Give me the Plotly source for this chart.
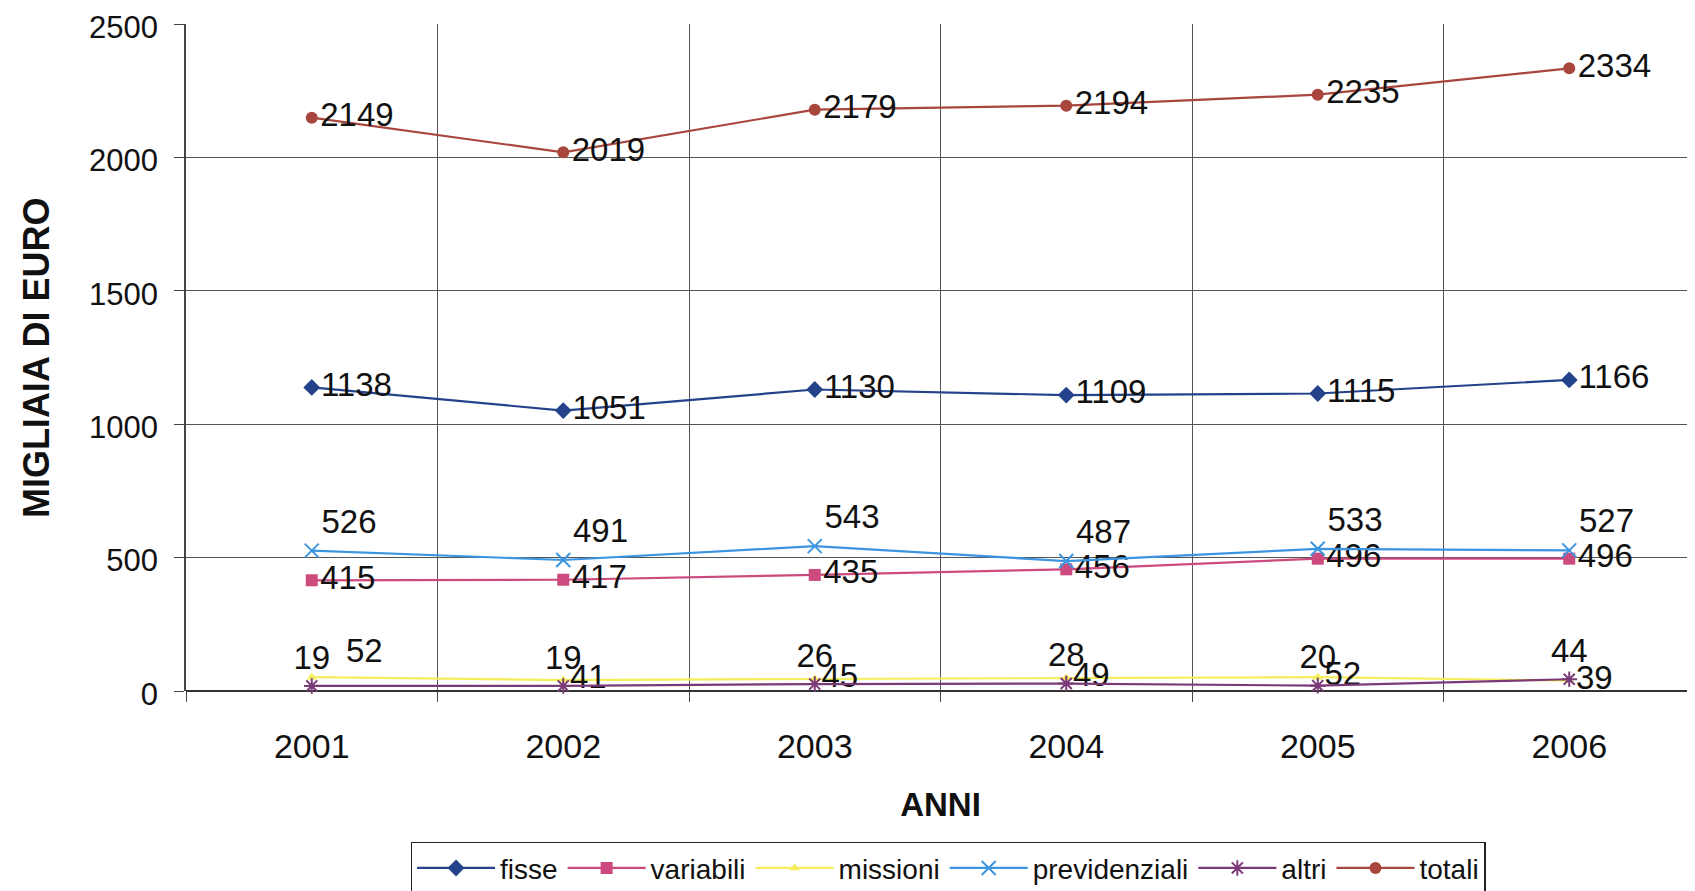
import plotly.graph_objects as go

years = ["2001", "2002", "2003", "2004", "2005", "2006"]
fisse = [1138, 1051, 1130, 1109, 1115, 1166]
variabili = [415, 417, 435, 456, 496, 496]
missioni = [52, 41, 45, 49, 52, 39]
previdenziali = [526, 491, 543, 487, 533, 527]
altri = [19, 19, 26, 28, 20, 44]
totali = [2149, 2019, 2179, 2194, 2235, 2334]

x = list(range(len(years)))
LABEL_FONT = dict(family="Liberation Sans, Arial, sans-serif", size=33, color="#111")

series = [
    ("fisse", fisse, "#23428A", dict(symbol="diamond", size=13), ["middle right"] * 6),
    ("variabili", variabili, "#CC4A7E", dict(symbol="square", size=12), ["middle right"] * 6),
    ("missioni", missioni, "#F4EE5A", dict(symbol="triangle-up", size=9), ["top right"] + ["middle right"] * 5),
    ("previdenziali", previdenziali, "#3C95E0", dict(symbol="x-thin-open", size=14, line=dict(width=2, color="#3C95E0")), ["top right"] * 6),
    ("altri", altri, "#7A3A78", dict(symbol="asterisk-open", size=13, line=dict(width=2, color="#7A3A78")), ["top center"] * 6),
    ("totali", totali, "#A8453D", dict(symbol="circle", size=12), ["middle right"] * 6),
]

fig = go.Figure()
for name, vals, color, marker, tpos in series:
    m = dict(color=color, **marker)
    labels = [str(v) for v in vals]
    if name == "missioni":
        labels[0] = "   " + labels[0]
    fig.add_trace(go.Scatter(
        x=x, y=vals, name=name, mode="lines+markers+text",
        line=dict(color=color, width=2.2), marker=m,
        text=labels, textposition=tpos,
        textfont=LABEL_FONT, cliponaxis=False,
    ))

# page body adds an 8px offset; compensate so the chart sits like the reference
fig.update_layout(
    width=1687, height=883,
    margin=dict(l=178, r=0, t=16, b=200, autoexpand=False),
    paper_bgcolor="white", plot_bgcolor="white",
    showlegend=True,
    legend=dict(
        orientation="h", x=0.505, xanchor="center", y=-0.226, yanchor="top",
        bordercolor="#222", borderwidth=1.5,
        font=dict(family="Liberation Sans, Arial, sans-serif", size=28, color="#111"),
        itemwidth=78, tracegroupgap=0,
    ),
    annotations=[dict(
        text="<b>MIGLIAIA DI EURO</b>", textangle=-90, showarrow=False,
        xref="paper", yref="paper", x=-0.099, y=0.5, xanchor="center", yanchor="middle",
        font=dict(family="Liberation Sans, Arial, sans-serif", size=36, color="#111"),
    )],
)
fig.update_xaxes(
    range=[-0.5, 5.5], tickvals=x, ticktext=years, automargin=False,
    showgrid=False, ticks="", ticklabelstandoff=32,
    tickfont=dict(family="Liberation Sans, Arial, sans-serif", size=34, color="#111"),
    showline=False, zeroline=False,
    minor=dict(tick0=-0.5, dtick=1, showgrid=True, gridcolor="#555", gridwidth=1,
               ticks="outside", ticklen=10, tickcolor="#444"),
    title=dict(text="<b>ANNI</b>", font=dict(family="Liberation Sans, Arial, sans-serif", size=33, color="#111"), standoff=28),
)
fig.update_yaxes(
    range=[0, 2500], tickvals=[0, 500, 1000, 1500, 2000, 2500], automargin=False,
    ticklabeloverflow="allow", ticklabelshift=3,
    showgrid=True, gridcolor="#555", gridwidth=1,
    showline=True, linecolor="#444", linewidth=1.5,
    ticks="outside", ticklen=10, tickcolor="#444", ticklabelstandoff=10,
    zeroline=True, zerolinecolor="#333", zerolinewidth=1.5,
    tickfont=dict(family="Liberation Sans, Arial, sans-serif", size=31, color="#111"),
)

fig.write_html("out.html")
